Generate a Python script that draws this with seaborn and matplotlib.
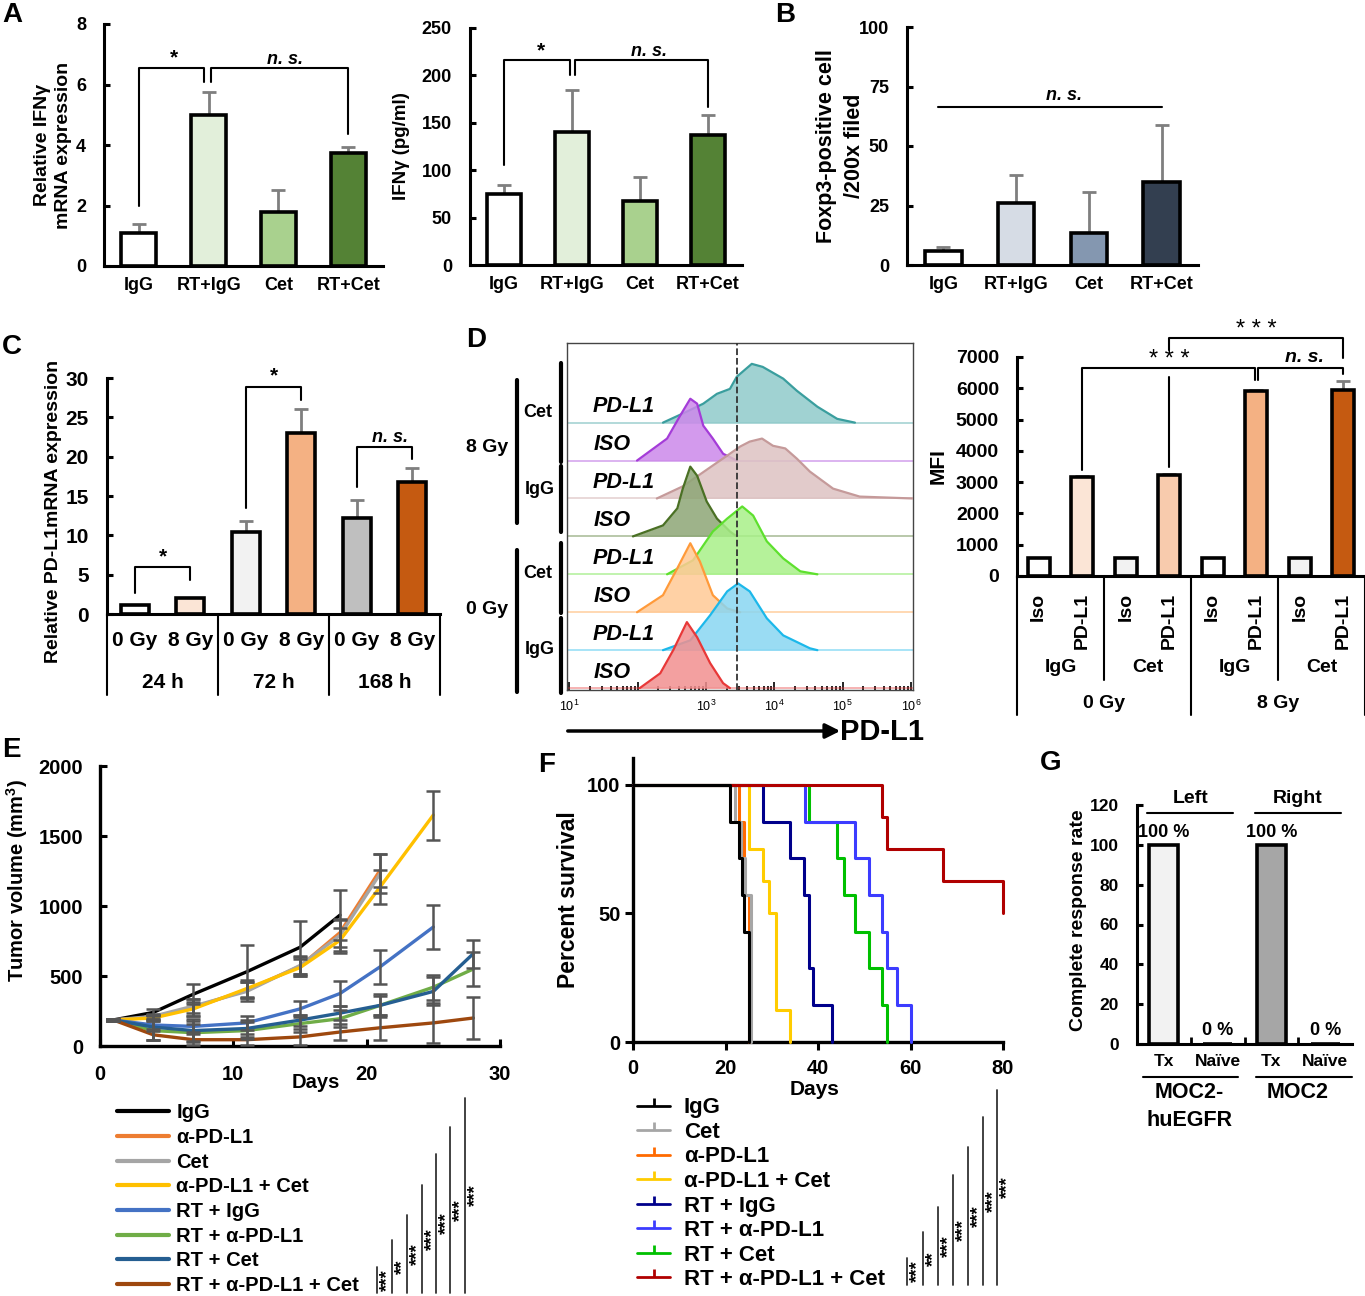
import matplotlib
matplotlib.use('Agg')

import numpy as np
import pandas as pd
import matplotlib.pyplot as plt
import seaborn as sns
from matplotlib.lines import Line2D

W, H = 1365, 1296

# ---------------- data ----------------
# A / B
groups = ['IgG', 'RT+IgG', 'Cet', 'RT+Cet']
ifng_mrna = [1.1, 5.0, 1.8, 3.75]
ifng_mrna_err = [0.3, 0.75, 0.7, 0.2]
ifng_pg = [75, 140, 67, 137]
ifng_pg_err = [9, 45, 26, 21]
foxp3 = [6, 26, 13.5, 35]
foxp3_err = [1.5, 12, 17, 24]
green_cols = ['#FFFFFF', '#E2EFDA', '#A9D18E', '#548235']
slate_cols = ['#FFFFFF', '#D6DCE5', '#8497B0', '#333F50']

# C
c_dose = ['0 Gy', '8 Gy', '0 Gy', '8 Gy', '0 Gy', '8 Gy']
c_time = ['24 h', '72 h', '168 h']
pdl1_mrna = [1.2, 2.0, 10.4, 23.0, 12.2, 16.8]
pdl1_mrna_err = [0.0, 0.0, 1.4, 3.1, 2.3, 1.7]
c_cols = ['#FFFFFF', '#FBE5D6', '#F2F2F2', '#F4B183', '#BFBFBF', '#C55A11']

# D - MFI
mfi_stain = ['Iso', 'PD-L1'] * 4
mfi_drug = ['IgG', 'Cet', 'IgG', 'Cet']
mfi_dose = ['0 Gy', '8 Gy']
mfi = [560, 3170, 560, 3220, 560, 5900, 560, 5950]
mfi_err = [15, 15, 15, 30, 15, 30, 15, 280]
mfi_cols = ['#FFFFFF', '#FBE5D6', '#F2F2F2', '#F8CBAD', '#FFFFFF', '#F4B183', '#F2F2F2', '#C55A11']

# D - flow histograms (log10 intensity, relative height), top row first
g8_cet_pd_x = [2.37, 2.66, 2.96, 3.16, 3.35, 3.45, 3.67, 3.83, 4.13, 4.33, 4.63, 4.92, 5.18]
g8_cet_pd_y = [0, 0.24, 0.5, 0.76, 0.89, 1.21, 1.55, 1.47, 1.16, 0.84, 0.42, 0.1, 0]
g8_cet_iso_x = [1.99, 2.43, 2.62, 2.77, 2.87, 2.96, 3.10, 3.25, 3.45]
g8_cet_iso_y = [0, 0.58, 1.18, 1.63, 1.5, 0.92, 0.58, 0.18, 0]
g8_igg_pd_x = [2.28, 2.66, 3.10, 3.31, 3.50, 3.64, 3.82, 3.98, 4.16, 4.33, 4.52, 4.86, 5.25, 6.03]
g8_igg_pd_y = [0, 0.32, 0.87, 1.13, 1.37, 1.5, 1.58, 1.39, 1.32, 1.05, 0.71, 0.26, 0.05, 0]
g8_igg_iso_x = [1.93, 2.37, 2.58, 2.66, 2.77, 2.87, 3.01, 3.16, 3.35, 3.45]
g8_igg_iso_y = [0, 0.29, 0.74, 1.26, 1.84, 1.6, 0.92, 0.47, 0.13, 0]
g0_cet_pd_x = [2.43, 2.81, 3.10, 3.31, 3.53, 3.69, 3.89, 4.13, 4.38, 4.63]
g0_cet_pd_y = [0, 0.37, 1.13, 1.47, 1.79, 1.55, 0.87, 0.42, 0.08, 0]
g0_cet_iso_x = [1.99, 2.37, 2.58, 2.77, 2.91, 3.10, 3.31, 3.50]
g0_cet_iso_y = [0, 0.45, 1.16, 1.82, 1.34, 0.45, 0.1, 0]
g0_igg_pd_x = [2.37, 2.77, 3.06, 3.31, 3.47, 3.64, 3.89, 4.13, 4.52, 4.63]
g0_igg_pd_y = [0, 0.26, 0.92, 1.55, 1.76, 1.55, 0.84, 0.39, 0.05, 0]
g0_igg_iso_x = [2.03, 2.33, 2.52, 2.72, 2.87, 3.06, 3.25, 3.35]
g0_igg_iso_y = [0, 0.39, 1.0, 1.74, 1.34, 0.66, 0.13, 0]
mfi_cutoff = 2800

# E - tumour volume
e_days = [1, 4, 7, 11, 15, 18, 21, 25, 28]
vol_igg = [186, 240, 370, 530, 705, 935]
vol_pdl1 = [186, 205, 275, 400, 570, 810, 1255]
vol_cet = [186, 212, 285, 390, 575, 790, 1230]
vol_pdl1_cet = [186, 200, 265, 410, 560, 755, 1135, 1650]
vol_rt_igg = [186, 150, 140, 165, 265, 375, 565, 850]
vol_rt_pdl1 = [186, 110, 95, 110, 160, 195, 290, 420, 550]
vol_rt_cet = [186, 135, 110, 125, 185, 235, 290, 390, 660]
vol_rt_pdl1_cet = [186, 80, 45, 45, 65, 100, 130, 165, 200]
sem_igg = [10, 25, 70, 190, 190, 180]
sem_pdl1 = [10, 20, 60, 60, 70, 100, 120]
sem_cet = [10, 20, 50, 70, 60, 110, 140]
sem_pdl1_cet = [10, 20, 50, 60, 60, 90, 120, 175]
sem_rt_igg = [10, 40, 40, 50, 60, 90, 120, 160]
sem_rt_pdl1 = [10, 70, 60, 60, 60, 60, 80, 90, 120]
sem_rt_cet = [10, 90, 80, 60, 40, 50, 70, 100, 100]
sem_rt_pdl1_cet = [10, 40, 40, 40, 60, 60, 90, 140, 150]
e_labels = ['IgG', 'α-PD-L1', 'Cet', 'α-PD-L1 + Cet', 'RT + IgG', 'RT + α-PD-L1', 'RT + Cet', 'RT + α-PD-L1 + Cet']
e_cols = ['#000000', '#ED7D31', '#A5A5A5', '#FFC000', '#4472C4', '#70AD47', '#255E91', '#9E480E']
e_stars = ['***', '**', '***', '***', '***', '***', '***']

# F - survival
surv_igg_t = [0, 21, 23, 23.5, 24, 25]
surv_igg = [100, 85.7, 71.4, 57.1, 42.9, 0]
surv_cet_t = [0, 22, 23.3, 24.2, 25.5]
surv_cet = [100, 85.7, 71.4, 57.1, 0]
surv_pdl1_t = [0, 23, 24, 25]
surv_pdl1 = [100, 85.7, 57.1, 0]
surv_pdl1_cet_t = [0, 25, 28, 29.3, 31, 34]
surv_pdl1_cet = [100, 75, 62.5, 50, 12.5, 0]
surv_rt_igg_t = [0, 28, 34, 37, 38, 39, 43]
surv_rt_igg = [100, 85.7, 71.4, 57.1, 28.6, 14.3, 0]
surv_rt_pdl1_t = [0, 37.2, 48, 51, 53.8, 55, 57, 60]
surv_rt_pdl1 = [100, 85.7, 71.4, 57.1, 42.9, 28.6, 14.3, 0]
surv_rt_cet_t = [0, 38, 44, 45.6, 48, 51, 53.8, 55]
surv_rt_cet = [100, 85.7, 71.4, 57.1, 42.9, 28.6, 14.3, 0]
surv_rt_pdl1_cet_t = [0, 53.8, 55, 67, 80]
surv_rt_pdl1_cet = [100, 87.5, 75, 62.5, 50]
f_labels = ['IgG', 'Cet', 'α-PD-L1', 'α-PD-L1 + Cet', 'RT + IgG', 'RT + α-PD-L1', 'RT + Cet', 'RT + α-PD-L1 + Cet']
f_cols = ['#000000', '#A6A6A6', '#FF6A00', '#FFCC00', '#00008B', '#3C3CFF', '#00C000', '#B00000']
f_stars = ['***', '**', '***', '***', '***', '***', '***']

# G
g_cond = ['Tx', 'Naïve', 'Tx', 'Naïve']
g_side = ['Left', 'Right']
g_line = ['MOC2-\nhuEGFR', 'MOC2']
cr_rate = [100, 0, 100, 0]
g_cols = ['#F2F2F2', '#FFFFFF', '#A6A6A6', '#FFFFFF']

# ---------------- style ----------------
sns.set_style('ticks')
plt.rcParams['font.family'] = ['Liberation Sans', 'DejaVu Sans']
plt.rcParams['font.weight'] = 'bold'
plt.rcParams['axes.labelweight'] = 'bold'
for k in ['axes.edgecolor', 'xtick.color', 'ytick.color', 'text.color', 'axes.labelcolor']:
    plt.rcParams[k] = 'black'

fig = plt.figure(figsize=(W / 100, H / 100), dpi=100)


def fx(px):
    return px / W


def fy(py):
    return 1 - py / H


def add_ax(x0, y0, x1, y1):
    return fig.add_axes([x0 / W, 1 - y1 / H, (x1 - x0) / W, (y1 - y0) / H])


def fline(xs, ys, lw=2.5, color='black'):
    fig.add_artist(Line2D([fx(x) for x in xs], [fy(y) for y in ys],
                          transform=fig.transFigure, color=color, lw=lw))


def ftext(px, py, s, **kw):
    fig.text(fx(px), fy(py), s, ha=kw.pop('ha', 'center'), va=kw.pop('va', 'center'), **kw)


def style(ax, fs=13, pad=13, lw=2.2):
    sns.despine(ax=ax)
    for s in ['left', 'bottom']:
        ax.spines[s].set_linewidth(lw)
    ax.tick_params(axis='y', direction='in', length=4, width=lw, pad=pad, labelsize=fs)
    ax.tick_params(axis='x', length=0, pad=8, labelsize=fs)
    ax.set_xlabel('')


def bar_panel(ax, vals, errs, cols, width=0.5):
    keys = ['b%d' % i for i in range(len(vals))]
    df = pd.DataFrame({'key': keys, 'val': vals})
    sns.barplot(data=df, x='key', y='val', hue='key', palette=dict(zip(keys, cols)),
                legend=False, width=width, edgecolor='black', linewidth=2.6, saturation=1,
                errorbar=None, ax=ax, zorder=2)
    if errs is not None:
        ax.errorbar(np.arange(len(vals)), vals, yerr=[np.zeros(len(vals)), errs], fmt='none',
                    ecolor='#7F7F7F', elinewidth=2, capsize=5, capthick=2, zorder=1)
    ax.set_xlim(-0.5, len(vals) - 0.5)


def bracket(ax, x1, x2, ytop, y1, y2, lw=1.5):
    ax.plot([x1, x1, x2, x2], [y1, ytop, ytop, y2], color='black', lw=lw, clip_on=False)


def letter(px, py, s):
    ftext(px, py, s, fontsize=20, ha='left')


# ---------------- A (mRNA) ----------------
ax = add_ax(104, 24, 383, 266)
bar_panel(ax, ifng_mrna, ifng_mrna_err, green_cols)
ax.set_ylim(0, 8)
ax.set_yticks([0, 2, 4, 6, 8])
ax.set_xticks(range(4))
ax.set_xticklabels(groups)
style(ax)
ax.set_ylabel('Relative IFNγ\nmRNA expression', fontsize=14, linespacing=1.3)
ax.yaxis.set_label_coords(-0.115, 0.5)
bracket(ax, 0, 0.93, 6.55, 2.0, 6.08)
bracket(ax, 1.03, 3.0, 6.55, 6.08, 4.36)
ax.text(0.5, 6.55, '*', ha='center', va='bottom', fontsize=15)
ax.text(2.1, 6.55, 'n. s.', ha='center', va='bottom', fontsize=13, style='italic')
letter(2, 15, 'A')

# ---------------- A (ELISA) ----------------
ax = add_ax(470, 28, 742, 265)
bar_panel(ax, ifng_pg, ifng_pg_err, green_cols)
ax.set_ylim(0, 250)
ax.set_yticks(range(0, 251, 50))
ax.set_xticks(range(4))
ax.set_xticklabels(groups)
style(ax)
ax.set_ylabel('IFNγ (pg/ml)', fontsize=13.5)
ax.yaxis.set_label_coords(-0.22, 0.5)
bracket(ax, 0, 0.97, 216, 106, 200)
bracket(ax, 1.04, 3.0, 216, 200, 167)
ax.text(0.55, 216, '*', ha='center', va='bottom', fontsize=15)
ax.text(2.13, 216, 'n. s.', ha='center', va='bottom', fontsize=13, style='italic')

# ---------------- B ----------------
ax = add_ax(907, 27, 1198, 265)
bar_panel(ax, foxp3, foxp3_err, slate_cols)
ax.set_ylim(0, 100)
ax.set_yticks(range(0, 101, 25))
ax.set_xticks(range(4))
ax.set_xticklabels(groups)
style(ax)
ax.set_ylabel('Foxp3-positive cell\n/200x filed', fontsize=15.5, linespacing=1.45)
ax.yaxis.set_label_coords(-0.145, 0.5)
ax.plot([-0.08, 3.0], [66.4, 66.4], color='black', lw=1.5)
ax.text(1.66, 67.5, 'n. s.', ha='center', va='bottom', fontsize=13, style='italic')
letter(775, 15, 'B')

# ---------------- C ----------------
ax = add_ax(107, 378, 440, 614)
bar_panel(ax, pdl1_mrna, pdl1_mrna_err, c_cols)
ax.set_ylim(0, 30)
ax.set_yticks(range(0, 31, 5))
ax.set_xticks([])
style(ax, fs=15)
ax.set_ylabel('Relative PD-L1mRNA expression', fontsize=14)
ax.yaxis.set_label_coords(-0.135, 0.436)
tr = ax.get_xaxis_transform()
for i, d in enumerate(c_dose):
    ax.text(i, -0.114, d, transform=tr, ha='center', va='center', fontsize=15)
for j, t in enumerate(c_time):
    ax.text(2 * j + 0.5, -0.292, t, transform=tr, ha='center', va='center', fontsize=15)
for xb in [-0.5, 1.5, 3.5, 5.5]:
    ax.plot([xb, xb], [0, -0.343], transform=tr, color='black', lw=1.5, clip_on=False)
bracket(ax, 0, 1, 6.0, 2.7, 4.3)
ax.text(0.5, 6.1, '*', ha='center', va='bottom', fontsize=15)
bracket(ax, 2, 3, 28.9, 13.5, 27.2)
ax.text(2.5, 29.0, '*', ha='center', va='bottom', fontsize=15)
bracket(ax, 4, 5, 21.2, 16.1, 19.7)
ax.text(4.6, 21.3, 'n. s.', ha='center', va='bottom', fontsize=13, style='italic')
letter(2, 347, 'C')

# ---------------- D histograms ----------------
ax = add_ax(567, 343, 913, 690)
hists = [
    (g8_cet_pd_x, g8_cet_pd_y, '#3A9E9E', '#8FCACA'),
    (g8_cet_iso_x, g8_cet_iso_y, '#A43CD8', '#CC88EA'),
    (g8_igg_pd_x, g8_igg_pd_y, '#C59A9A', '#DDC2C2'),
    (g8_igg_iso_x, g8_igg_iso_y, '#4A7024', '#8DA676'),
    (g0_cet_pd_x, g0_cet_pd_y, '#5EE02E', '#A8F088'),
    (g0_cet_iso_x, g0_cet_iso_y, '#FF9A3A', '#FFC995'),
    (g0_igg_pd_x, g0_igg_pd_y, '#1CB8EA', '#88D6F2'),
    (g0_igg_iso_x, g0_igg_iso_y, '#E83838', '#F29090'),
]
for i, (xs, ys, edge, fill) in enumerate(hists):
    base = 7 - i
    df = pd.DataFrame({'x': 10 ** np.array(xs), 'y': base + np.array(ys)})
    ax.axhline(base, color=edge, lw=1.2, alpha=0.45, zorder=1)
    ax.fill_between(df['x'], base, df['y'], color=fill, alpha=0.85, lw=0, zorder=2 + i)
    sns.lineplot(data=df, x='x', y='y', color=edge, lw=1.6, ax=ax, zorder=2.5 + i, sort=False)
ax.set_xscale('log')
ax.set_xlim(10 ** 0.965, 10 ** 6.03)
ax.set_ylim(-0.05, 9.1)
ax.axvline(mfi_cutoff, color='#333333', lw=1.3, ls='--', zorder=20)
for i, lab in enumerate(['PD-L1', 'ISO'] * 4):
    ax.text(10 ** (1.8 if lab == 'PD-L1' else 1.62), 7 - i + 0.42, lab, ha='center', va='center',
            fontsize=15.5, style='italic', zorder=30)
ax.set_yticks([])
ax.set_xticks([1e1, 1e2, 1e3, 1e4, 1e5, 1e6])
ax.set_xticklabels([r'$\mathregular{10^{1}}$', '', r'$\mathregular{10^{3}}$', r'$\mathregular{10^{4}}$',
                    r'$\mathregular{10^{5}}$', r'$\mathregular{10^{6}}$'])
ax.tick_params(axis='x', which='both', direction='in', labelsize=9, pad=6, width=1.2)
ax.tick_params(axis='x', which='major', length=6)
ax.tick_params(axis='x', which='minor', length=3)
for lab in ax.get_xticklabels():
    lab.set_fontweight('normal')
for s in ax.spines.values():
    s.set_linewidth(1.0)
    s.set_color('#444444')
ax.set_xlabel('')
ax.set_ylabel('')
# row brackets
fline([561, 561], [363, 462], lw=3)
fline([561, 561], [466, 532], lw=3)
fline([561, 561], [543, 613], lw=3)
fline([561, 561], [618, 693], lw=3)
fline([517, 517], [380, 523], lw=3)
fline([517, 517], [550, 692], lw=3)
for (px, py, s) in [(538, 412, 'Cet'), (540, 490, 'IgG'), (538, 573, 'Cet'), (540, 650, 'IgG')]:
    ftext(px, py, s, fontsize=13)
ftext(487, 448, '8 Gy', fontsize=14)
ftext(487, 610, '0 Gy', fontsize=14)
ax.annotate('', xy=(fx(843), fy(731)), xytext=(fx(565), fy(731)), xycoords='figure fraction',
            arrowprops=dict(arrowstyle='-|>', lw=2.5, color='black', mutation_scale=22))
ftext(882, 732, 'PD-L1', fontsize=21)
letter(466, 340, 'D')

# ---------------- D MFI ----------------
ax = add_ax(1017, 357, 1365, 576)
bar_panel(ax, mfi, mfi_err, mfi_cols)
ax.set_ylim(0, 7000)
ax.set_yticks(range(0, 7001, 1000))
ax.set_xticks(range(8))
ax.set_xticklabels(mfi_stain, rotation=90)
style(ax, fs=14)
ax.tick_params(axis='x', pad=12)
ax.set_ylabel('MFI', fontsize=15)
ax.yaxis.set_label_coords(-0.198, 0.5)
tr = ax.get_xaxis_transform()
for xb, yb in [(-0.5, -0.635), (1.5, -0.475), (3.5, -0.635), (5.5, -0.475), (7.5, -0.635)]:
    ax.plot([xb, xb], [0, yb], transform=tr, color='black', lw=1.5, clip_on=False)
for j, d in enumerate(mfi_drug):
    ax.text(2 * j + 0.5, -0.42, d, transform=tr, ha='center', va='center', fontsize=14)
for j, d in enumerate(mfi_dose):
    ax.text(4 * j + 1.5, -0.58, d, transform=tr, ha='center', va='center', fontsize=14)
bracket(ax, 1, 4.97, 6650, 3390, 6265)
bracket(ax, 5.03, 7, 6650, 6265, 6450)
ax.plot([3, 3], [3480, 6360], color='black', lw=1.5)
bracket(ax, 3, 7, 7610, 7230, 6970)
ax.text(3, 6560, '* * *', ha='center', va='bottom', fontsize=17, fontweight='normal')
ax.text(5, 7520, '* * *', ha='center', va='bottom', fontsize=17, fontweight='normal', clip_on=False)
ax.text(6.1, 6700, 'n. s.', ha='center', va='bottom', fontsize=14, style='italic')

# ---------------- E ----------------
ax = add_ax(100, 766, 500, 1046)
e_vols = [vol_igg, vol_pdl1, vol_cet, vol_pdl1_cet, vol_rt_igg, vol_rt_pdl1, vol_rt_cet, vol_rt_pdl1_cet]
e_sems = [sem_igg, sem_pdl1, sem_cet, sem_pdl1_cet, sem_rt_igg, sem_rt_pdl1, sem_rt_cet, sem_rt_pdl1_cet]
rows = []
for lab, vals in zip(e_labels, e_vols):
    for d, v in zip(e_days, vals):
        rows.append({'group': lab, 'day': d, 'vol': v})
edf = pd.DataFrame(rows)
sns.lineplot(data=edf, x='day', y='vol', hue='group', hue_order=e_labels,
             palette=dict(zip(e_labels, e_cols)), lw=2.4, ax=ax, legend=False,
             estimator=None, zorder=3)
for vals, sems in zip(e_vols, e_sems):
    ax.errorbar(e_days[:len(vals)], vals, yerr=sems, fmt='none', ecolor='#555555',
                elinewidth=1.8, capsize=5, capthick=1.8, zorder=4)
ax.set_xlim(0, 30)
ax.set_ylim(0, 2000)
ax.set_xticks([0, 10, 20, 30])
ax.set_yticks(range(0, 2001, 500))
sns.despine(ax=ax)
for s in ['left', 'bottom']:
    ax.spines[s].set_linewidth(2.4)
ax.tick_params(axis='both', direction='in', length=5, width=2.2, labelsize=14.5)
ax.tick_params(axis='y', pad=12)
ax.tick_params(axis='x', pad=14)
ax.set_xlabel('Days', fontsize=14.5)
ax.xaxis.set_label_coords(0.54, -0.095)
ax.set_ylabel('Tumor volume (mm$^\\mathregular{3}$)', fontsize=14.5)
ax.yaxis.set_label_coords(-0.175, 0.59)
handles = [Line2D([], [], color=c, lw=3) for c in e_cols]
ax.legend(handles, e_labels, loc='upper left', bbox_to_anchor=(0.0425, -0.205), frameon=False,
          fontsize=14.5, handlelength=2.6, handletextpad=0.35, labelspacing=0.28,
          borderpad=0, borderaxespad=0)
for x, top, st in zip([377, 392, 407, 422, 436, 450, 465], [1267, 1240, 1215, 1185, 1154, 1127, 1098], e_stars):
    fline([x, x], [top, 1293], lw=1.3, color='#333333')
    ftext(x + 2, (top + 1293) / 2, st, rotation=90, ha='left', fontsize=13.5)
letter(2, 750, 'E')

# ---------------- F ----------------
ax = add_ax(633, 758, 1003, 1042)
f_t = [surv_igg_t, surv_cet_t, surv_pdl1_t, surv_pdl1_cet_t, surv_rt_igg_t, surv_rt_pdl1_t, surv_rt_cet_t, surv_rt_pdl1_cet_t]
f_s = [surv_igg, surv_cet, surv_pdl1, surv_pdl1_cet, surv_rt_igg, surv_rt_pdl1, surv_rt_cet, surv_rt_pdl1_cet]
draw_order = [2, 1, 3, 4, 6, 5, 7, 0]
for z, k in enumerate(draw_order):
    sdf = pd.DataFrame({'t': f_t[k], 's': f_s[k]})
    sns.lineplot(data=sdf, x='t', y='s', color=f_cols[k], lw=2.2, drawstyle='steps-post',
                 ax=ax, estimator=None, clip_on=False, zorder=3 + z)
ax.set_xlim(0, 80)
ax.set_ylim(0, 110.5)
ax.set_xticks(range(0, 81, 20))
ax.set_yticks([0, 50, 100])
sns.despine(ax=ax)
for s in ['left', 'bottom']:
    ax.spines[s].set_linewidth(2.4)
ax.tick_params(axis='both', direction='out', length=6, width=2.2, labelsize=14.5)
ax.tick_params(axis='y', pad=3)
ax.tick_params(axis='x', pad=6)
ax.set_xlabel('Days', fontsize=15)
ax.xaxis.set_label_coords(0.49, -0.135)
ax.set_ylabel('Percent survival', fontsize=16.5)
ax.yaxis.set_label_coords(-0.143, 0.5)
handles = [Line2D([], [], color=c, lw=2, marker=2, markersize=6, markeredgewidth=2) for c in f_cols]
ax.legend(handles, f_labels, loc='upper left', bbox_to_anchor=(0.011, -0.195), frameon=False,
          fontsize=16, handlelength=1.5, handletextpad=0.6, labelspacing=0.16, numpoints=1,
          borderpad=0, borderaxespad=0)
for x, top, st in zip([907, 923, 938, 953, 968, 983, 997], [1258, 1232, 1207, 1175, 1147, 1117, 1090], f_stars):
    fline([x, x], [top, 1285], lw=1.3, color='#333333')
    ftext(x + 2, (top + 1285) / 2, st, rotation=90, ha='left', fontsize=13.5)
letter(538, 765, 'F')

# ---------------- G ----------------
ax = add_ax(1137, 805, 1352, 1044)
bar_panel(ax, cr_rate, None, g_cols, width=0.54)
ax.set_ylim(0, 120)
ax.set_yticks(range(0, 121, 20))
ax.set_xticks(range(4))
ax.set_xticklabels(g_cond)
style(ax, fs=12.5)
ax.set_xticks([0.5, 1.5, 2.5], minor=True)
ax.tick_params(axis='x', which='minor', direction='in', length=5, width=2)
ax.tick_params(axis='x', pad=7)
ax.set_ylabel('Complete response rate', fontsize=14)
ax.yaxis.set_label_coords(-0.233, 0.52)
for i, v in enumerate(cr_rate):
    ax.text(i, v + (6.4 if v > 0 else 7), '%d %%' % v, ha='center', va='center', fontsize=13)
for j, side in enumerate(g_side):
    c = 2 * j + 0.49
    ax.plot([c - 0.8, c + 0.8], [116, 116], color='black', lw=1.5, clip_on=False)
    ax.text(c, 123.5, side, ha='center', va='center', fontsize=14)
tr = ax.get_xaxis_transform()
for j, name in enumerate(g_line):
    a, b = (-0.39, 1.37) if j == 0 else (1.72, 3.5)
    ax.plot([a, b], [-0.138, -0.138], transform=tr, color='black', lw=1.5, clip_on=False)
    ax.text(2 * j + 0.48, -0.16, name, transform=tr, ha='center', va='top', fontsize=15.5, linespacing=1.4)
letter(1040, 763, 'G')

fig.savefig('out.png', dpi=100)
